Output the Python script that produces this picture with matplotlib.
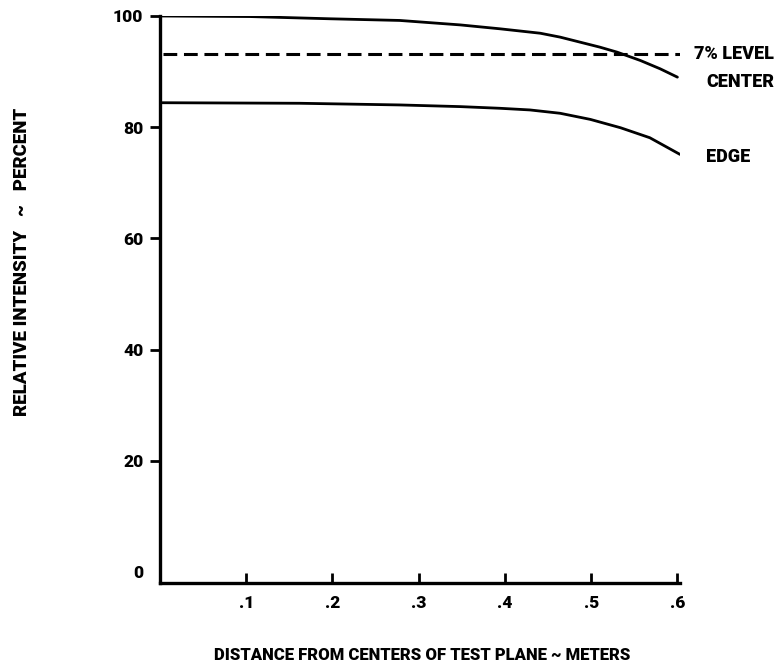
import matplotlib
matplotlib.use("Agg")
import matplotlib.pyplot as plt

# === DATA ===
center_x = [0.0, 0.104, 0.197, 0.278, 0.348, 0.394, 0.441, 0.464, 0.487, 0.510, 0.530, 0.557, 0.580, 0.600]
center_y = [100.0, 99.9, 99.5, 99.2, 98.4, 97.7, 96.9, 96.2, 95.3, 94.4, 93.5, 92.0, 90.5, 89.0]
edge_x = [0.0, 0.162, 0.278, 0.348, 0.394, 0.429, 0.464, 0.499, 0.534, 0.568, 0.603]
edge_y = [84.4, 84.3, 84.0, 83.7, 83.4, 83.1, 82.5, 81.4, 79.9, 78.1, 75.1]
level_y = 93.1
level_x = [0.004, 0.603]
x_ticks = [0.1, 0.2, 0.3, 0.4, 0.5, 0.6]
x_ticklabels = [".1", ".2", ".3", ".4", ".5", ".6"]
y_ticks = [0, 20, 40, 60, 80, 100]
# ==========================================

FONT = ["Roboto", "DejaVu Sans"]
WEIGHT = "black"

fig = plt.figure(figsize=(7.83, 6.70), dpi=100)
ax = fig.add_axes([160 / 783, 1 - 583 / 670, (680 - 160) / 783, (583 - 16) / 670])

ax.plot(center_x, center_y, color="black", lw=2.0, solid_capstyle="round")
ax.plot(edge_x, edge_y, color="black", lw=2.0, solid_capstyle="round")
ax.plot(level_x, [level_y, level_y], color="black", lw=2.2, linestyle=(0, (4.5, 2.2)))

ax.set_xlim(0, 0.603)
ax.set_ylim(-2, 100)

for side in ["top", "right"]:
    ax.spines[side].set_visible(False)
for side in ["left", "bottom"]:
    ax.spines[side].set_linewidth(2.4)

ax.set_xticks(x_ticks)
ax.set_xticklabels(x_ticklabels)
ax.set_yticks(y_ticks)
ax.tick_params(axis="x", direction="in", length=7, width=2, pad=9)
ax.tick_params(axis="y", direction="out", length=7, width=2, pad=5)
for lbl in ax.get_xticklabels() + ax.get_yticklabels():
    lbl.set_fontfamily(FONT)
    lbl.set_fontweight(WEIGHT)
    lbl.set_fontsize(12.5)
# no tick mark at 0 on the y axis
ax.yaxis.get_major_ticks()[0].tick1line.set_visible(False)

txt = dict(fontfamily=FONT, fontweight=WEIGHT, fontsize=13, va="center", ha="left",
           transform=ax.transData, clip_on=False)
ax.text(0.619, level_y, "7% LEVEL", **txt)
ax.text(0.634, 88.2, "CENTER", **txt)
ax.text(0.633, 74.6, "EDGE", **txt)

fig.text(422 / 783, 1 - 655 / 670, "DISTANCE FROM CENTERS OF TEST PLANE ~ METERS",
         fontfamily=FONT, fontweight=WEIGHT, fontsize=12, ha="center", va="center")
fig.text(22 / 783, 1 - 262 / 670, "RELATIVE INTENSITY   ~   PERCENT",
         fontfamily=FONT, fontweight=WEIGHT, fontsize=13.5, ha="center", va="center",
         rotation=90)

fig.savefig("out.png", dpi=100)
